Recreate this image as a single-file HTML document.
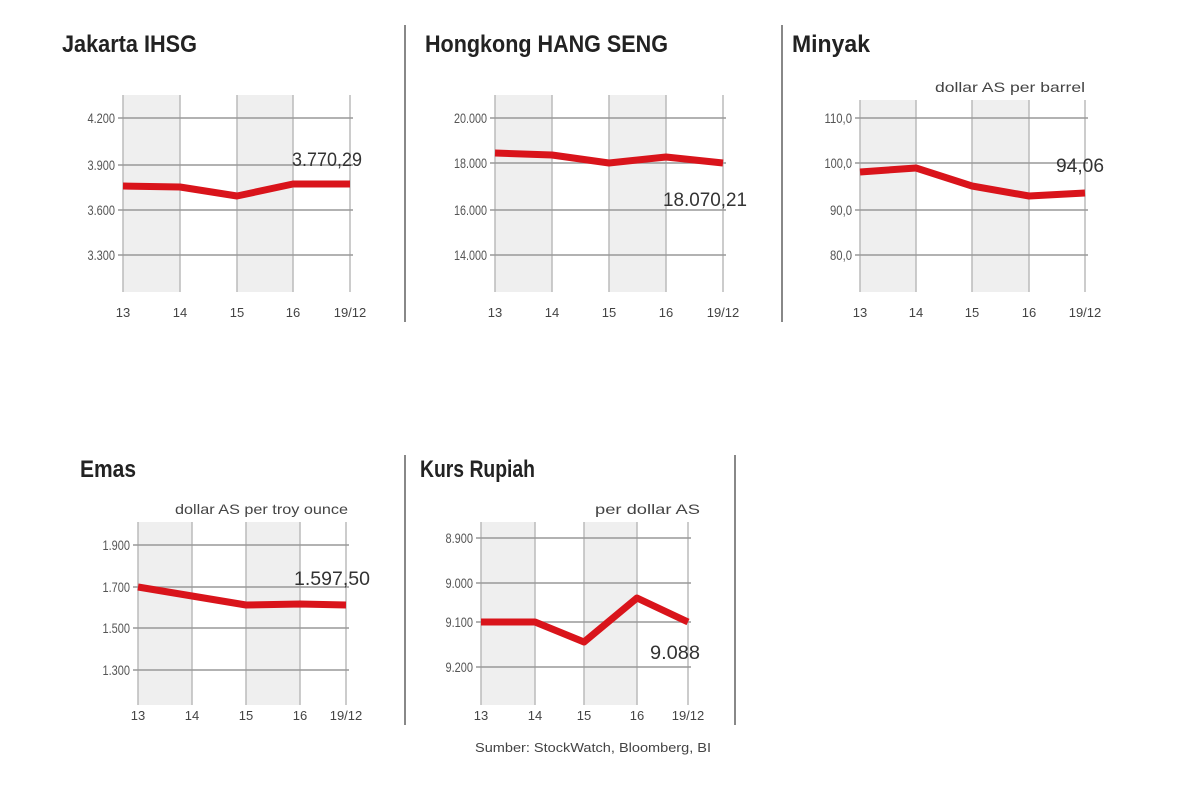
<!DOCTYPE html>
<html><head><meta charset="utf-8"><style>
body{margin:0;background:#fff;}
svg text{font-family:"Liberation Sans",sans-serif;}
</style></head><body>
<svg id="s" width="1200" height="800" xmlns="http://www.w3.org/2000/svg"></svg>
<script>
const s=document.getElementById('s');let h='';
function chart(o){
 const [x0,x1,x2,x3,x4]=o.xs;
 h+=`<rect x="${x0}" y="${o.top}" width="${x1-x0}" height="${o.bot-o.top}" fill="#efefef"/>`;
 h+=`<rect x="${x2}" y="${o.top}" width="${x3-x2}" height="${o.bot-o.top}" fill="#efefef"/>`;
 o.xs.forEach(x=>h+=`<line x1="${x}" y1="${o.top}" x2="${x}" y2="${o.bot}" stroke="#bbb" stroke-width="1.5"/>`);
 o.gy.forEach((y,i)=>{h+=`<line x1="${x0-5}" y1="${y}" x2="${x4+3}" y2="${y}" stroke="#999" stroke-width="1.5"/>`;
  const w=o.gl[i].length*5.5;
  h+=`<text x="${x0-8-w}" y="${y+5}" font-size="14" fill="#555" textLength="${w}" lengthAdjust="spacingAndGlyphs">${o.gl[i]}</text>`;});
 const xl=['13','14','15','16','19/12'];
 o.xs.forEach((x,i)=>h+=`<text x="${x}" y="${o.xly}" font-size="13" text-anchor="middle" fill="#444">${xl[i]}</text>`);
 h+=`<polyline points="${o.xs.map((x,i)=>x+','+o.ly[i]).join(' ')}" fill="none" stroke="#d9141b" stroke-width="7" stroke-linejoin="round"/>`;
 h+=`<text x="${o.vl[0]}" y="${o.vl[1]}" font-size="19" fill="#333" text-anchor="middle" textLength="${o.vl[3]}" lengthAdjust="spacingAndGlyphs">${o.vl[2]}</text>`;
 h+=`<text x="${o.t[0]}" y="${o.t[1]}" font-size="24" font-weight="bold" fill="#222" textLength="${o.t[3]}" lengthAdjust="spacingAndGlyphs">${o.t[2]}</text>`;
 if(o.sub)h+=`<text x="${o.sub[0]}" y="${o.sub[1]}" font-size="14" fill="#444" textLength="${o.sub[3]}" lengthAdjust="spacingAndGlyphs">${o.sub[2]}</text>`;
}
chart({xs:[123,180,237,293,350],top:95,bot:292,gy:[118,165,210,255],gl:['4.200','3.900','3.600','3.300'],xly:317,ly:[186,187,196,184,184],vl:[327,166,'3.770,29',70],t:[62,52,'Jakarta IHSG',135]});
chart({xs:[495,552,609,666,723],top:95,bot:292,gy:[118,163,210,255],gl:['20.000','18.000','16.000','14.000'],xly:317,ly:[153,155,163,157,163],vl:[705,206,'18.070,21',84],t:[425,52,'Hongkong HANG SENG',243]});
chart({xs:[860,916,972,1029,1085],top:100,bot:292,gy:[118,163,210,255],gl:['110,0','100,0','90,0','80,0'],xly:317,ly:[172,168,186,196,193],vl:[1080,172,'94,06',48],t:[792,52,'Minyak',78],sub:[935,92,'dollar AS per barrel',150]});
chart({xs:[138,192,246,300,346],top:522,bot:705,gy:[545,587,628,670],gl:['1.900','1.700','1.500','1.300'],xly:720,ly:[587,596,605,604,605],vl:[332,585,'1.597,50',76],t:[80,477,'Emas',56],sub:[175,514,'dollar AS per troy ounce',173]});
chart({xs:[481,535,584,637,688],top:522,bot:705,gy:[538,583,622,667],gl:['8.900','9.000','9.100','9.200'],xly:720,ly:[622,622,642,598,622],vl:[675,659,'9.088',50],t:[420,477,'Kurs Rupiah',115],sub:[595,514,'per dollar AS',105]});
h+=`<text x="475" y="752" font-size="13" fill="#444" textLength="236" lengthAdjust="spacingAndGlyphs">Sumber: StockWatch, Bloomberg, BI</text>`;
[[405,25,322],[782,25,322],[405,455,725],[735,455,725]].forEach(l=>h+=`<line x1="${l[0]}" y1="${l[1]}" x2="${l[0]}" y2="${l[2]}" stroke="#888" stroke-width="2"/>`);
s.innerHTML=h;
</script>
</body></html>
